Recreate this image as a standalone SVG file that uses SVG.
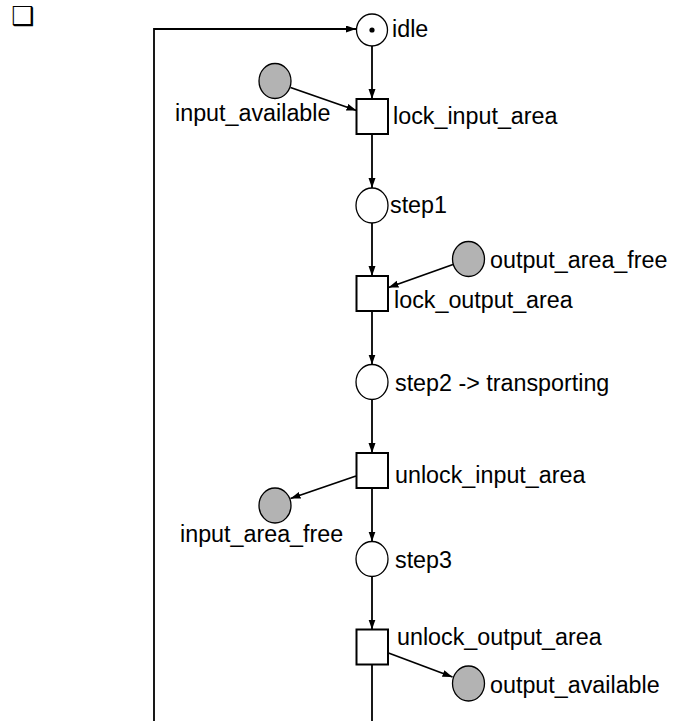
<svg xmlns="http://www.w3.org/2000/svg" width="673" height="721" viewBox="0 0 673 721">
  <style>
    .lbl { font-family: "Liberation Sans", Arial, sans-serif; font-size: 23.3px; fill: #000; }
    .place { fill: #fff; stroke: #000; stroke-width: 1.3; }
    .res { fill: #b3b3b3; stroke: #000; stroke-width: 1.3; }
    .trans { fill: #fff; stroke: #000; stroke-width: 2; }
    .arc { fill: none; stroke: #000; stroke-width: 1.8; }
    .bullet { font-family: "DejaVu Sans", sans-serif; font-size: 26px; fill: #000; }
  </style>
  <defs>
    <marker id="arrow" markerUnits="userSpaceOnUse" markerWidth="10" markerHeight="8" refX="10" refY="3.5" orient="auto">
      <path d="M0,0 L10,3.5 L0,7 z" fill="#000"/>
    </marker>
  </defs>

  <rect width="673" height="721" fill="#fff"/>

  <text class="bullet" x="11" y="25">❑</text>

  <!-- connectors -->
  <g id="connectors">
    <polyline class="arc" points="154,721 154,29 356,29" marker-end="url(#arrow)"/>
    <line class="arc" x1="372" y1="46" x2="372" y2="99" marker-end="url(#arrow)"/>
    <line class="arc" x1="290.5" y1="87.5" x2="356.5" y2="110.5" marker-end="url(#arrow)"/>
    <line class="arc" x1="372" y1="134" x2="372" y2="188" marker-end="url(#arrow)"/>
    <line class="arc" x1="372" y1="223" x2="372" y2="276" marker-end="url(#arrow)"/>
    <line class="arc" x1="453" y1="264.5" x2="388.5" y2="287.5" marker-end="url(#arrow)"/>
    <line class="arc" x1="372" y1="311" x2="372" y2="364.5" marker-end="url(#arrow)"/>
    <line class="arc" x1="372" y1="399.5" x2="372" y2="453" marker-end="url(#arrow)"/>
    <line class="arc" x1="356" y1="476" x2="290.5" y2="498.5" marker-end="url(#arrow)"/>
    <line class="arc" x1="372" y1="488" x2="372" y2="541.5" marker-end="url(#arrow)"/>
    <line class="arc" x1="372" y1="576.5" x2="372" y2="629.5" marker-end="url(#arrow)"/>
    <line class="arc" x1="388.5" y1="653" x2="452.5" y2="677" marker-end="url(#arrow)"/>
    <line class="arc" x1="372" y1="665" x2="372" y2="721"/>
  </g>

  <!-- places -->
  <g id="idle">
    <ellipse class="place" cx="372" cy="30" rx="15.5" ry="16"/>
    <circle cx="372" cy="30" r="2.6" fill="#000"/>
    <text class="lbl" x="392" y="37">idle</text>
  </g>
  <g id="input_available">
    <ellipse class="res" cx="275" cy="81" rx="16" ry="17.5"/>
    <text class="lbl" x="175" y="121">input_available</text>
  </g>
  <g id="step1">
    <ellipse class="place" cx="372" cy="205.5" rx="16" ry="17.5"/>
    <text class="lbl" x="390" y="213">step1</text>
  </g>
  <g id="output_area_free">
    <ellipse class="res" cx="468.5" cy="259" rx="16" ry="17.5"/>
    <text class="lbl" x="490" y="268">output_area_free</text>
  </g>
  <g id="step2">
    <ellipse class="place" cx="372" cy="382" rx="16" ry="17.5"/>
    <text class="lbl" x="395" y="391">step2 -&gt; transporting</text>
  </g>
  <g id="input_area_free">
    <ellipse class="res" cx="275" cy="505.5" rx="16" ry="17.5"/>
    <text class="lbl" x="180" y="542">input_area_free</text>
  </g>
  <g id="step3">
    <ellipse class="place" cx="372" cy="559" rx="16" ry="17.5"/>
    <text class="lbl" x="395" y="568">step3</text>
  </g>
  <g id="output_available">
    <ellipse class="res" cx="468.5" cy="683.5" rx="16" ry="17.5"/>
    <text class="lbl" x="490" y="693">output_available</text>
  </g>

  <!-- transitions -->
  <g id="lock_input_area">
    <rect class="trans" x="356.5" y="99" width="31.5" height="35"/>
    <text class="lbl" x="393" y="124">lock_input_area</text>
  </g>
  <g id="lock_output_area">
    <rect class="trans" x="356.5" y="276" width="31.5" height="35"/>
    <text class="lbl" x="394" y="307.5">lock_output_area</text>
  </g>
  <g id="unlock_input_area">
    <rect class="trans" x="356.5" y="453" width="31.5" height="35"/>
    <text class="lbl" x="395" y="483">unlock_input_area</text>
  </g>
  <g id="unlock_output_area">
    <rect class="trans" x="356.5" y="629.5" width="31.5" height="35"/>
    <text class="lbl" x="397" y="645">unlock_output_area</text>
  </g>
</svg>
